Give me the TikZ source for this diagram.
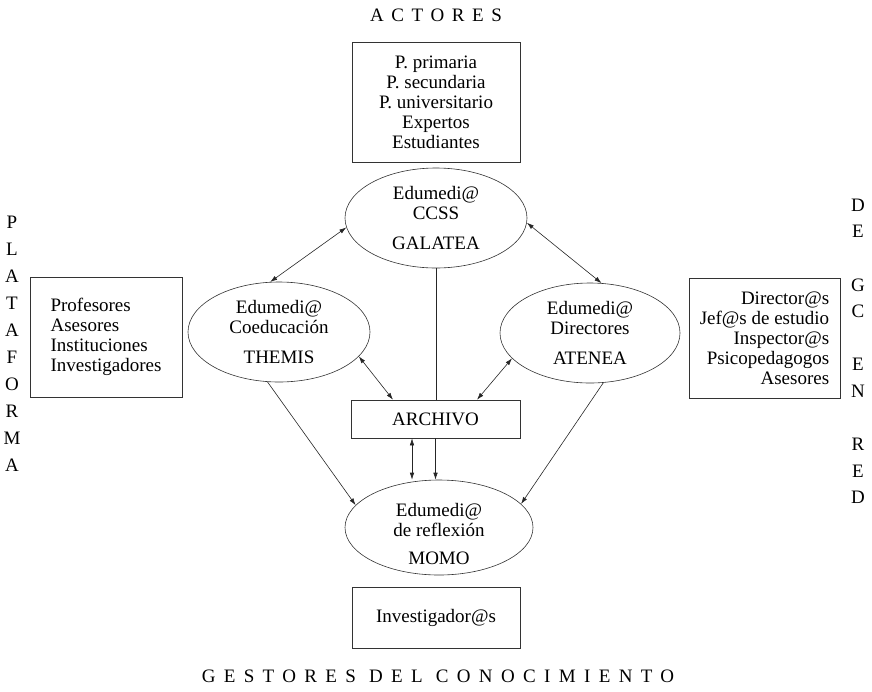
\documentclass[tikz,border=0pt]{standalone}
\usepackage{fontspec}
\setmainfont{Liberation Serif}
\newfontfamily\actfont[LetterSpace=40]{Liberation Serif}
\newfontfamily\gesfont[LetterSpace=44]{Liberation Serif}
\usetikzlibrary{shapes.geometric,arrows.meta}

\begin{document}
\begin{tikzpicture}[x=1pt,y=1pt,
	every node/.style={font=\fontsize{19}{20}\selectfont, text=black},
	caja/.style={draw=black!80, line width=0.6pt, inner sep=0pt},
	nodo/.style={draw=black!80, line width=0.6pt, ellipse, inner sep=0pt, align=center, minimum width=182pt, minimum height=100pt},
	flecha/.style={draw=black!85, line width=0.6pt, -{Latex[length=7pt,width=4.5pt]}},
	doble/.style={draw=black!85, line width=0.6pt, {Latex[length=7pt,width=4.5pt]}-{Latex[length=7pt,width=4.5pt]}}]
	\useasboundingbox (0,0) rectangle (872,-691);
	\node (actores) at (436,-15) {\actfont ACTORES};
	\node (gestores) at (438,-676) {\gesfont GESTORES DEL CONOCIMIENTO};
	\foreach \l [count=\i from 0] in {P,L,A,T,A,F,O,R,M,A}
		\node (pl\i) at (12,{-222-27*\i}) {\l};
	\foreach \i/\l in {0/D,1/E,3/G,4/C,6/E,7/N,9/R,10/E,11/D}
		\node (gc\i) at (858,{-205-26.6*\i}) {\l};
	\node [caja, minimum width=168pt, minimum height=120pt, align=center] (actbox) at (436,-102) {P. primaria\\P. secundaria\\P. universitario\\Expertos\\Estudiantes};
	\node [caja, minimum width=152pt, minimum height=120pt, align=left] (platbox) at (106,-337) {Profesores\\Asesores\\Instituciones\\Investigadores};
	\node [caja, minimum width=151pt, minimum height=120pt, align=right] (dirbox) at (764.5,-338) {Director@s\\Jef@s de estudio\\Inspector@s\\Psicopedagogos\\Asesores};
	\node [caja, minimum width=169pt, minimum height=38pt] (archivo) at (435.5,-419) {ARCHIVO};
	\node [caja, minimum width=168pt, minimum height=61pt] (invbox) at (436,-617.5) {Investigador@s};
	\node [nodo] (galatea) at (436,-218) {Edumedi@\\CCSS\\[10pt]GALATEA};
	\node [nodo] (themis) at (279,-332) {Edumedi@\\Coeducación\\[10pt]THEMIS};
	\node [nodo, minimum width=180pt] (atenea) at (590,-333) {Edumedi@\\Directores\\[10pt]ATENEA};
	\node [nodo, minimum width=188pt, minimum height=95pt] (momo) at (439,-527.5) {};
	\node [align=center] (momotxt) at ([yshift=-6pt]momo.center) {Edumedi@\\de reflexión\\[8pt]MOMO};
	\draw [doble] (galatea.186) -- (themis.100);
	\draw [doble] (galatea.357) -- (atenea.77);
	\draw [draw=black!85, line width=0.6pt] (galatea.south) -- (galatea.south |- archivo.north);
	\draw [flecha] (archivo.south) -- (archivo.south |- momo.north);
	\draw [doble] ([xshift=-23.5pt]archivo.south) -- ([xshift=-23.5pt]archivo.south |- momo.north);
	\draw [doble] (themis.343) -- ([xshift=-42.5pt]archivo.north);
	\draw [doble] (atenea.198) -- ([xshift=41.5pt]archivo.north);
	\draw [flecha] (themis.257) -- (momo.165);
	\draw [flecha] (atenea.285) -- (momo.16);
\end{tikzpicture}
\end{document}
